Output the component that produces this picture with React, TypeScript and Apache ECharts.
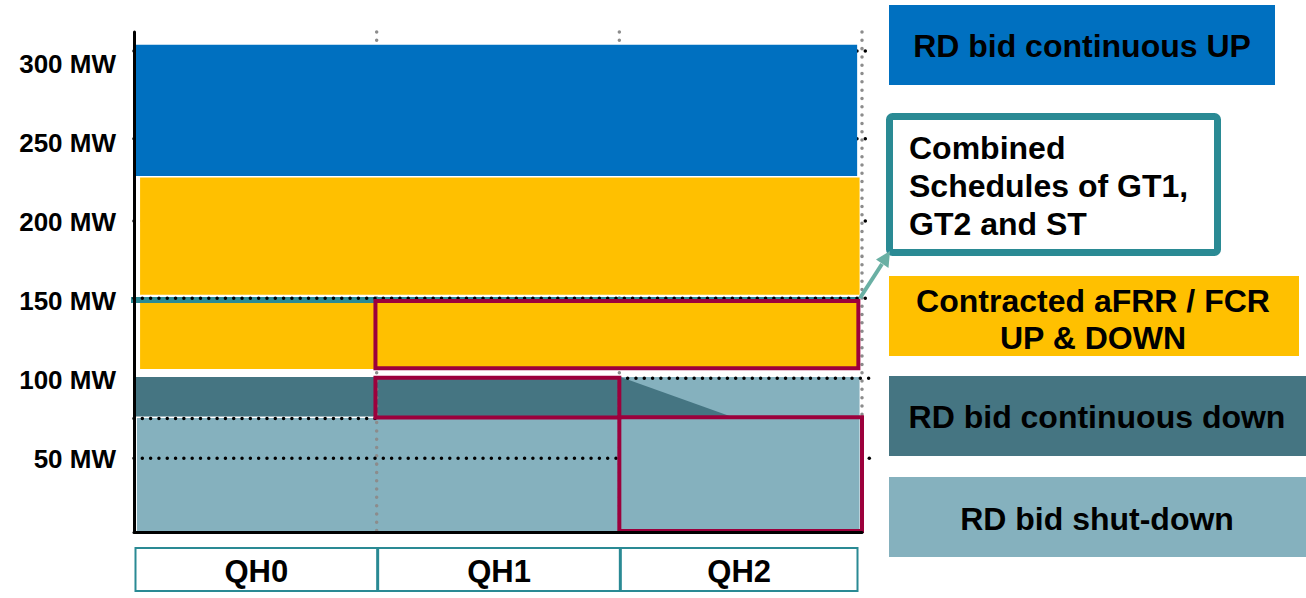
import React, { useEffect, useRef } from "react";
import * as echarts from "echarts";

// ---- data ----
const categories = ["QH0", "QH1", "QH2"];
const yTickValues = [50, 100, 150, 200, 250, 300];
// [x0, x1, mwLow, mwHigh] (x in quarter-hours)
const continuousUp = [[0.005, 2.98, 229, 312]];
const contractedAfrr = [
  [0.025, 2.99, 154, 228],
  [0.025, 2.99, 107, 149],
];
const continuousDown = [[0.005, 2, 77, 102]];
// wedge polygon: [x, mw, x, mw, x, mw]
const continuousDownWedge = [[2.005, 102, 2.46, 77, 2.005, 77]];
const shutDown = [
  [0.012, 2, 4, 76],
  [2, 2.99, 4, 102],
];
const combinedSchedule = [
  [-0.016, 150.6],
  [2.99, 150.6],
];
const redBoxes = [
  [0.995, 2.985, 107.5, 150],
  [0.995, 2, 76.3, 101.5],
  [2, 3, 4.6, 76.5],
];
// dotted guide segments: [x0, x1, mw]
const hiddenGuides = [
  [0, 3.03, 200.5],
  [0, 3.03, 252.5],
  [0, 3.03, 308],
];
const visibleGuides = [
  [0, 3.03, 151.8],
  [0, 1, 75.8],
  [2, 3.03, 101.2],
  [0, 2, 50.6],
  [3.03, 3.032, 50.6],
];
const verticalGuides = [1, 2, 3];

const C = {
  blue: "#0070C0",
  yellow: "#FFC000",
  darkTeal: "#457582",
  lightTeal: "#85B1BE",
  red: "#9C003C",
  teal: "#2A8A94",
  arrow: "#6AB0A4",
};
const FONT = '"Liberation Sans", Arial, sans-serif';

function rectSeries(data: number[][], fill: string, z: number, stroke?: string, lw?: number) {
  return {
    type: "custom",
    z,
    data,
    encode: { x: [0, 1], y: [2, 3] },
    renderItem: (_p: any, api: any) => {
      const a = api.coord([api.value(0), api.value(3)]);
      const b = api.coord([api.value(1), api.value(2)]);
      return {
        type: "rect",
        shape: { x: a[0], y: a[1], width: b[0] - a[0], height: b[1] - a[1] },
        style: stroke
          ? { fill: "none", stroke, lineWidth: lw || 3 }
          : { fill },
      };
    },
  };
}

function dottedSeries(data: number[][], color: string, z: number) {
  return {
    type: "custom",
    z,
    data,
    encode: { x: [0, 1], y: [2] },
    renderItem: (_p: any, api: any) => {
      const a = api.coord([api.value(0), api.value(2)]);
      const b = api.coord([api.value(1), api.value(2)]);
      return {
        type: "line",
        shape: { x1: a[0], y1: a[1], x2: b[0], y2: b[1] },
        style: { stroke: color, lineWidth: 3.5, lineDash: [0.01, 8.3], lineCap: "round" },
      };
    },
  };
}

export default function App() {
  const ref = useRef<HTMLDivElement>(null);
  useEffect(() => {
    if (!ref.current) return;
    const chart = echarts.init(ref.current, null, { renderer: "svg" });
    const option: any = {
      animation: false,
      backgroundColor: "#fff",
      grid: [
        { left: 134, right: 444, top: 32, bottom: 66 },
        { left: 134, right: 444, top: 547, height: 45 },
      ],
      xAxis: [
        {
          type: "value",
          gridIndex: 0,
          min: 0,
          max: 3,
          z: 10,
          axisLine: { show: true, lineStyle: { color: "#000", width: 3 } },
          axisTick: { show: false },
          axisLabel: { show: false },
          splitLine: { show: false },
        },
        {
          type: "value",
          gridIndex: 1,
          min: 0,
          max: 3,
          show: false,
        },
      ],
      yAxis: [
        {
          type: "value",
          gridIndex: 0,
          min: 4,
          max: 320,
          z: 10,
          axisLine: { show: true, lineStyle: { color: "#000", width: 3 } },
          axisTick: { show: false },
          splitLine: { show: false },
          axisLabel: {
            customValues: yTickValues,
            formatter: (v: number) => `${v} MW`,
            color: "#000",
            fontSize: 26,
            fontWeight: "bold",
            fontFamily: FONT,
            margin: 18,
          },
        },
        { type: "value", gridIndex: 1, min: 0, max: 1, show: false },
      ],
      series: [
        dottedSeries(hiddenGuides, "#000", 1),
        rectSeries(shutDown, C.lightTeal, 2),
        rectSeries(continuousDown, C.darkTeal, 2),
        {
          type: "custom",
          z: 2,
          data: continuousDownWedge,
          encode: { x: [0, 2, 4], y: [1, 3, 5] },
          renderItem: (_p: any, api: any) => {
            const pts = [0, 2, 4].map((i) => api.coord([api.value(i), api.value(i + 1)]));
            return { type: "polygon", shape: { points: pts }, style: { fill: C.darkTeal } };
          },
        },
        {
          type: "custom",
          z: 3,
          data: verticalGuides.map((x) => [x, 4, 320]),
          encode: { x: [0], y: [1, 2] },
          renderItem: (_p: any, api: any) => {
            const a = api.coord([api.value(0), api.value(2)]);
            const b = api.coord([api.value(0), api.value(1)]);
            return {
              type: "line",
              shape: { x1: a[0], y1: a[1], x2: b[0], y2: b[1] },
              style: { stroke: "#8C8C8C", lineWidth: 3.5, lineDash: [0.01, 8.3], lineCap: "round" },
            };
          },
        },
        rectSeries(continuousUp, C.blue, 4),
        rectSeries(contractedAfrr, C.yellow, 4),
        {
          type: "line",
          z: 5,
          clip: false,
          data: combinedSchedule,
          symbol: "none",
          lineStyle: { color: C.teal, width: 6 },
        },
        dottedSeries(visibleGuides, "#000", 6),
        rectSeries(redBoxes, "none", 7, C.red, 4),
        {
          type: "custom",
          xAxisIndex: 1,
          yAxisIndex: 1,
          data: categories.map((_c, i) => [i, i + 1]),
          encode: { x: [0, 1] },
          renderItem: (params: any, api: any) => {
            const a = api.coord([api.value(0), 1]);
            const b = api.coord([api.value(1), 0]);
            const x0 = a[0] + 1.5;
            const w = b[0] - a[0] - (params.dataIndex === 2 ? 6 : 1);
            return {
              type: "group",
              children: [
                {
                  type: "rect",
                  shape: { x: x0, y: a[1] + 1, width: w, height: b[1] - a[1] - 2 },
                  style: { fill: "#fff", stroke: C.teal, lineWidth: 2 },
                },
                {
                  type: "text",
                  style: {
                    text: categories[params.dataIndex],
                    x: x0 + w / 2,
                    y: (a[1] + b[1]) / 2 + 2,
                    align: "center",
                    verticalAlign: "middle",
                    fontSize: 31,
                    fontWeight: "bold",
                    fontFamily: FONT,
                    fill: "#000",
                  },
                },
              ],
            };
          },
        },
      ],
      graphic: [
        // arrow from schedule to legend box
        {
          type: "line",
          shape: { x1: 860, y1: 298, x2: 882, y2: 264 },
          style: { stroke: C.arrow, lineWidth: 4 },
          z: 20,
        },
        {
          type: "polygon",
          shape: { points: [[890, 251], [876, 259.5], [888.5, 268]] },
          style: { fill: C.arrow },
          z: 20,
        },
        // legend boxes
        { type: "rect", shape: { x: 889, y: 5, width: 386, height: 80 }, style: { fill: C.blue } },
        {
          type: "text",
          style: {
            text: "RD bid continuous UP",
            x: 1082,
            y: 46,
            align: "center",
            verticalAlign: "middle",
            fontSize: 32,
            fontWeight: "bold",
            fontFamily: FONT,
            fill: "#000",
          },
        },
        {
          type: "rect",
          shape: { x: 889.5, y: 116.5, width: 328, height: 136, r: 3 },
          style: { fill: "#fff", stroke: C.teal, lineWidth: 7 },
        },
        {
          type: "text",
          style: {
            text: "Combined\nSchedules of GT1,\nGT2 and ST",
            x: 909,
            y: 186,
            align: "left",
            verticalAlign: "middle",
            lineHeight: 38,
            fontSize: 32,
            fontWeight: "bold",
            fontFamily: FONT,
            fill: "#000",
          },
        },
        { type: "rect", shape: { x: 889, y: 276, width: 410, height: 80 }, style: { fill: C.yellow } },
        {
          type: "text",
          style: {
            text: "Contracted aFRR / FCR\nUP & DOWN",
            x: 1093,
            y: 319,
            align: "center",
            verticalAlign: "middle",
            lineHeight: 37,
            fontSize: 32,
            fontWeight: "bold",
            fontFamily: FONT,
            fill: "#000",
          },
        },
        { type: "rect", shape: { x: 889, y: 376, width: 417, height: 80 }, style: { fill: C.darkTeal } },
        {
          type: "text",
          style: {
            text: "RD bid continuous down",
            x: 1097,
            y: 417,
            align: "center",
            verticalAlign: "middle",
            fontSize: 32,
            fontWeight: "bold",
            fontFamily: FONT,
            fill: "#000",
          },
        },
        { type: "rect", shape: { x: 889, y: 477, width: 417, height: 80 }, style: { fill: C.lightTeal } },
        {
          type: "text",
          style: {
            text: "RD bid shut-down",
            x: 1097,
            y: 519,
            align: "center",
            verticalAlign: "middle",
            fontSize: 32,
            fontWeight: "bold",
            fontFamily: FONT,
            fill: "#000",
          },
        },
      ],
    };
    chart.setOption(option);
    return () => chart.dispose();
  }, []);
  return (
    <div
      ref={ref}
      style={{ position: "fixed", left: 0, top: 0, width: 1306, height: 598 }}
    />
  );
}
